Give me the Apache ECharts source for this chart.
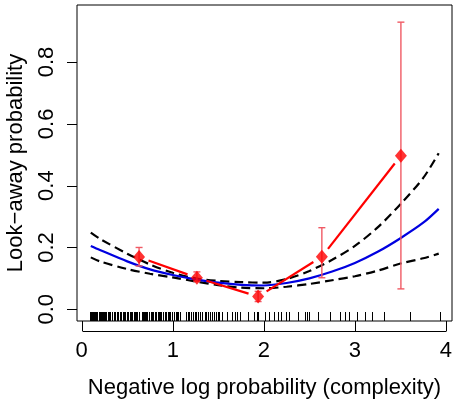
<!DOCTYPE html>
<html><head><meta charset="utf-8">
<script src="https://cdn.jsdelivr.net/npm/echarts@6/dist/echarts.min.js"></script>
<style>html,body{margin:0;padding:0;background:#fff}#c{width:458px;height:408px}</style>
</head><body><div id="c"></div>
<script>
const xTicks = [0, 1, 2, 3, 4];
const yTicks = [0, 0.2, 0.4, 0.6, 0.8];
const curveX = [0.1, 0.2, 0.5, 0.75, 1.0, 1.25, 1.5, 1.75, 2.0, 2.25, 2.5, 2.75, 3.0, 3.25, 3.5, 3.75, 3.92];
const fitY   = [0.205, 0.192, 0.155, 0.129, 0.111, 0.097, 0.086, 0.079, 0.077, 0.085, 0.100, 0.122, 0.150, 0.186, 0.230, 0.280, 0.325];
const upperY = [0.248, 0.228, 0.180, 0.145, 0.118, 0.100, 0.092, 0.088, 0.086, 0.098, 0.124, 0.160, 0.205, 0.265, 0.340, 0.425, 0.505];
const lowerY = [0.168, 0.155, 0.130, 0.115, 0.103, 0.090, 0.078, 0.070, 0.068, 0.073, 0.082, 0.094, 0.107, 0.125, 0.148, 0.165, 0.180];
const binX  = [0.63, 1.265, 1.937, 2.637, 3.505];
const binY  = [0.169, 0.102, 0.041, 0.170, 0.497];
const binLo = [0.140, 0.090, 0.025, 0.102, 0.066];
const binHi = [0.200, 0.121, 0.058, 0.264, 0.929];
const rugX = [0.09, 0.10, 0.105, 0.11, 0.12, 0.13, 0.14, 0.15, 0.16, 0.17, 0.19, 0.20, 0.21, 0.22, 0.23, 0.24, 0.26, 0.27, 0.29, 0.30, 0.31, 0.33, 0.35, 0.36, 0.37, 0.39, 0.40, 0.42, 0.43, 0.45, 0.46, 0.47, 0.50, 0.51, 0.53, 0.54, 0.55, 0.57, 0.59, 0.60, 0.61, 0.63, 0.66, 0.67, 0.68, 0.70, 0.71, 0.72, 0.74, 0.76, 0.77, 0.78, 0.80, 0.82, 0.84, 0.85, 0.86, 0.87, 0.89, 0.91, 0.93, 0.95, 0.96, 0.97, 0.99, 1.01, 1.03, 1.05, 1.06, 1.08, 1.14, 1.17, 1.18, 1.20, 1.22, 1.24, 1.25, 1.26, 1.28, 1.30, 1.32, 1.35, 1.37, 1.39, 1.41, 1.43, 1.45, 1.476, 1.495, 1.509, 1.542, 1.593, 1.648, 1.685, 1.71, 1.74, 1.831, 1.897, 1.923, 1.941, 2.014, 2.062, 2.116, 2.160, 2.190, 2.242, 2.281, 2.380, 2.454, 2.479, 2.501, 2.593, 2.721, 2.831, 2.893, 2.937, 3.022, 3.113, 3.187, 3.322, 3.600, 3.930];

const X_MIN = -0.0516, X_MAX = 4.066, Y_MIN = -0.0379, Y_MAX = 0.9845;
const FONT = 'Liberation Sans, Arial, Helvetica, sans-serif';
const pair = (xs, ys) => xs.map((x, i) => [x, ys[i]]);

const chart = echarts.init(document.getElementById('c'), null, {renderer: 'canvas'});
chart.setOption({
  animation: false,
  backgroundColor: '#fff',
  grid: {left: 77, top: 5, width: 375, height: 316, show: true, borderColor: '#000', borderWidth: 1, backgroundColor: 'transparent', containLabel: false, outerBoundsMode: 'none'},
  xAxis: {
    type: 'value', min: X_MIN, max: X_MAX,
    axisLine: {show: false},
    splitLine: {show: false},
    axisTick: {show: false},
    axisLabel: {customValues: xTicks, margin: 19, color: '#000', fontSize: 22, fontFamily: FONT, formatter: v => String(v)},
    name: 'Negative log probability (complexity)', nameLocation: 'middle', nameGap: 56,
    nameTextStyle: {color: '#000', fontSize: 22, fontFamily: FONT}
  },
  yAxis: {
    type: 'value', min: Y_MIN, max: Y_MAX,
    axisLine: {show: false},
    splitLine: {show: false},
    axisTick: {show: false},
    axisLabel: {customValues: yTicks, rotate: 90, margin: 19, color: '#000', fontSize: 22, fontFamily: FONT, formatter: v => v.toFixed(1)},
    name: 'Look\u2212away probability', nameLocation: 'middle', nameGap: 50,
    nameTextStyle: {color: '#000', fontSize: 22, fontFamily: FONT}
  },
  series: [
    {
      type: 'custom', name: 'xaxis', clip: false, silent: true,
      data: xTicks.map(v => [v]),
      renderItem: (params, api) => {
        const p = api.coord([api.value(0), Y_MIN]);
        const x = Math.round(p[0]) + 0.5, y = Math.round(p[1]);
        const kids = [{type: 'line', shape: {x1: x, y1: y, x2: x, y2: y + 10}, style: {stroke: '#000', lineWidth: 1}}];
        if (params.dataIndex === 0) {
          const e = api.coord([xTicks[xTicks.length - 1], Y_MIN]);
          kids.push({type: 'line', shape: {x1: x, y1: y + 10.5, x2: Math.round(e[0]) + 0.5, y2: y + 10.5}, style: {stroke: '#000', lineWidth: 1}});
        }
        return {type: 'group', children: kids};
      }
    },
    {
      type: 'custom', name: 'yticks', clip: false, silent: true,
      data: yTicks.map(v => [v]),
      renderItem: (params, api) => {
        const p = api.coord([X_MIN, api.value(0)]);
        const y = Math.round(p[1]) + 0.5, x = Math.round(p[0]);
        return {type: 'line', shape: {x1: x - 10, y1: y, x2: x, y2: y}, style: {stroke: '#000', lineWidth: 1}};
      }
    },
    {
      type: 'custom', name: 'rug', silent: true,
      data: rugX.map(v => [v]),
      renderItem: (params, api) => {
        const p = api.coord([api.value(0), Y_MIN]);
        const x = Math.round(p[0]) + 0.5;
        return {type: 'line', shape: {x1: x, y1: p[1], x2: x, y2: p[1] - 9}, style: {stroke: '#000', lineWidth: 1}};
      }
    },
    {type: 'line', name: 'upper', data: pair(curveX, upperY), smooth: 0.3, showSymbol: false, lineStyle: {color: '#000', width: 2.2, type: [9, 5]}, z: 3},
    {type: 'line', name: 'lower', data: pair(curveX, lowerY), smooth: 0.3, showSymbol: false, lineStyle: {color: '#000', width: 2.2, type: [9, 5]}, z: 3},
    {type: 'line', name: 'fit', data: pair(curveX, fitY), smooth: 0.3, showSymbol: false, lineStyle: {color: '#0000e0', width: 2.2}, z: 3},
    {
      type: 'custom', name: 'errbars', z: 4,
      data: binX.map((x, i) => [x, binLo[i], binHi[i]]),
      renderItem: (params, api) => {
        const lo = api.coord([api.value(0), api.value(1)]);
        const hi = api.coord([api.value(0), api.value(2)]);
        const st = {stroke: '#f05a64', lineWidth: 1.4};
        return {type: 'group', children: [
          {type: 'line', shape: {x1: lo[0], y1: lo[1], x2: hi[0], y2: hi[1]}, style: st},
          {type: 'line', shape: {x1: lo[0] - 3.5, y1: lo[1], x2: lo[0] + 3.5, y2: lo[1]}, style: st},
          {type: 'line', shape: {x1: hi[0] - 3.5, y1: hi[1], x2: hi[0] + 3.5, y2: hi[1]}, style: st}
        ]};
      }
    },
    {
      type: 'custom', name: 'segments', z: 5,
      data: binX.slice(0, -1).map((x, i) => [x, binY[i], binX[i + 1], binY[i + 1]]),
      renderItem: (params, api) => {
        const a = api.coord([api.value(0), api.value(1)]);
        const b = api.coord([api.value(2), api.value(3)]);
        const dx = b[0] - a[0], dy = b[1] - a[1], L = Math.hypot(dx, dy), g = 10;
        if (L <= 2 * g) return null;
        const ux = dx / L, uy = dy / L;
        return {type: 'line', shape: {x1: a[0] + ux * g, y1: a[1] + uy * g, x2: b[0] - ux * g, y2: b[1] - uy * g}, style: {stroke: '#ff0000', lineWidth: 2.2}};
      }
    },
    {type: 'scatter', name: 'bins', data: pair(binX, binY), symbol: 'diamond', symbolSize: [12, 14], itemStyle: {color: '#ff0000'}, z: 6}
  ]
});
</script></body></html>
